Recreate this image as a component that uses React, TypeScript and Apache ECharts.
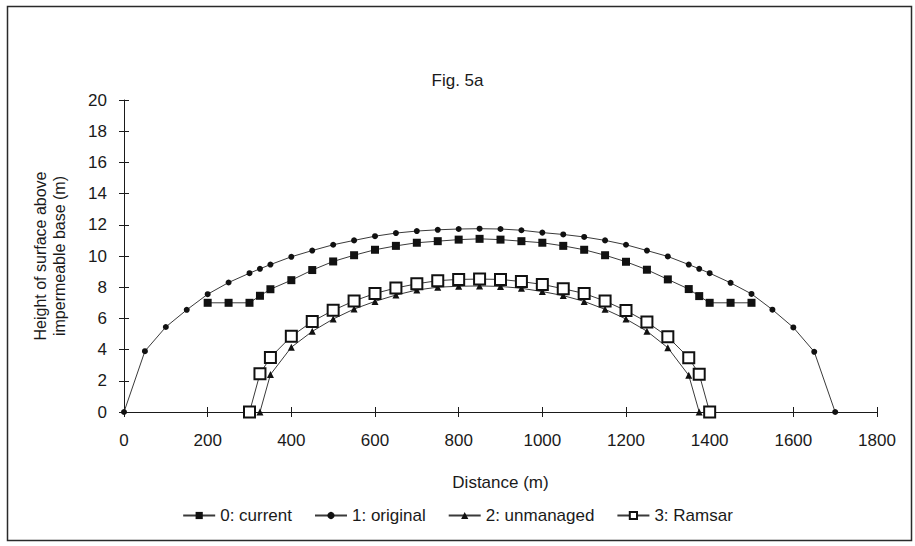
import React, { useEffect, useRef } from "react";
import * as echarts from "echarts";

// Fig. 5a — bog surface profiles along the transect
const xTicks = [0, 200, 400, 600, 800, 1000, 1200, 1400, 1600, 1800];
const yTicks = [0, 2, 4, 6, 8, 10, 12, 14, 16, 18, 20];

const currentDist = [200, 250, 300, 325, 350, 400, 450, 500, 550, 600, 650, 700, 750, 800, 850, 900, 950, 1000, 1050, 1100, 1150, 1200, 1250, 1300, 1350, 1375, 1400, 1450, 1500];
const currentHeight = [7.0, 7.0, 7.0, 7.45, 7.87, 8.45, 9.1, 9.65, 10.05, 10.4, 10.65, 10.85, 10.95, 11.05, 11.1, 11.05, 10.95, 10.85, 10.65, 10.4, 10.05, 9.63, 9.12, 8.5, 7.88, 7.43, 7.0, 7.0, 7.0];

const originalDist = [0, 50, 100, 150, 200, 250, 300, 325, 350, 400, 450, 500, 550, 600, 650, 700, 750, 800, 850, 900, 950, 1000, 1050, 1100, 1150, 1200, 1250, 1300, 1350, 1375, 1400, 1450, 1500, 1550, 1600, 1650, 1700];
const originalHeight = [0, 3.9, 5.45, 6.55, 7.55, 8.3, 8.9, 9.18, 9.45, 9.95, 10.35, 10.72, 11.0, 11.27, 11.47, 11.6, 11.68, 11.73, 11.75, 11.73, 11.65, 11.5, 11.38, 11.22, 11.0, 10.72, 10.35, 9.97, 9.45, 9.18, 8.9, 8.28, 7.57, 6.56, 5.42, 3.86, 0];

const unmanagedDist = [325, 350, 400, 450, 500, 550, 600, 650, 700, 750, 800, 850, 900, 950, 1000, 1050, 1100, 1150, 1200, 1250, 1300, 1350, 1375];
const unmanagedHeight = [0, 2.4, 4.15, 5.17, 5.96, 6.6, 7.09, 7.5, 7.82, 8.0, 8.06, 8.08, 8.05, 7.93, 7.72, 7.46, 7.09, 6.58, 5.96, 5.18, 4.12, 2.35, 0];

const ramsarDist = [300, 325, 350, 400, 450, 500, 550, 600, 650, 700, 750, 800, 850, 900, 950, 1000, 1050, 1100, 1150, 1200, 1250, 1300, 1350, 1375, 1400];
const ramsarHeight = [0, 2.45, 3.5, 4.85, 5.8, 6.52, 7.12, 7.6, 7.95, 8.22, 8.42, 8.5, 8.52, 8.5, 8.36, 8.18, 7.9, 7.6, 7.11, 6.5, 5.77, 4.82, 3.47, 2.42, 0];

const seriesNames = ["0: current", "1: original", "2: unmanaged", "3: Ramsar"];

const FONT = "'Liberation Sans', Arial, sans-serif";
const INK = "#1a1a1a";
const LINE = "#3a3a3a";

const pairs = (xs: number[], ys: number[]) => xs.map((x, i) => [x, ys[i]]);

export default function App() {
  const ref = useRef<HTMLDivElement>(null);

  useEffect(() => {
    if (!ref.current) return;
    document.body.style.margin = "0";
    const chart = echarts.init(ref.current, null, { renderer: "svg" });

    const axisBase = {
      axisLine: { show: true, lineStyle: { color: INK, width: 1 } },
      splitLine: { show: false },
    };

    chart.setOption({
      animation: false,
      backgroundColor: "#ffffff",
      textStyle: { fontFamily: FONT },
      title: {
        text: "Fig. 5a",
        left: "center",
        top: 67,
        textStyle: { fontFamily: FONT, fontSize: 17, fontWeight: "normal", color: INK },
      },
      grid: { left: 124, right: 38, top: 100, bottom: 134 },
      legend: {
        bottom: 17,
        left: "center",
        itemWidth: 32,
        itemHeight: 9,
        itemGap: 22,
        textStyle: { fontFamily: FONT, fontSize: 17, color: INK },
        data: seriesNames,
      },
      xAxis: [
        {
          ...axisBase,
          type: "value",
          min: 0,
          max: 1800,
          interval: 200,
          name: "Distance (m)",
          nameLocation: "middle",
          nameGap: 62,
          nameTextStyle: { fontFamily: FONT, fontSize: 17, color: INK },
          axisTick: { show: true, length: 5, lineStyle: { color: INK } },
          axisLabel: {
            fontFamily: FONT,
            fontSize: 17,
            color: INK,
            margin: 20,
            formatter: (v: number) => (xTicks.includes(v) ? String(v) : ""),
          },
        },
        {
          type: "value",
          position: "bottom",
          min: 0,
          max: 1800,
          interval: 200,
          axisLine: { show: false },
          splitLine: { show: false },
          axisLabel: { show: false },
          axisTick: { show: true, inside: true, length: 5, lineStyle: { color: INK } },
        },
      ],
      yAxis: [
        {
          ...axisBase,
          type: "value",
          min: 0,
          max: 20,
          interval: 2,
          name: "Height of surface above\nimpermeable base (m)",
          nameLocation: "middle",
          nameGap: 55,
          nameTextStyle: { fontFamily: FONT, fontSize: 16, color: INK, lineHeight: 19 },
          axisTick: { show: true, length: 5, lineStyle: { color: INK } },
          axisLabel: {
            fontFamily: FONT,
            fontSize: 17,
            color: INK,
            margin: 17,
            formatter: (v: number) => (yTicks.includes(v) ? String(v) : ""),
          },
        },
        {
          type: "value",
          position: "left",
          min: 0,
          max: 20,
          interval: 2,
          axisLine: { show: false },
          splitLine: { show: false },
          axisLabel: { show: false },
          axisTick: { show: true, inside: true, length: 5, lineStyle: { color: INK } },
        },
      ],
      graphic: [
        {
          type: "rect",
          shape: { x: 7.5, y: 6.5, width: 904, height: 534 },
          style: { fill: "none", stroke: "#2a2a2a", lineWidth: 1.5 },
          silent: true,
          z: -1,
        },
      ],
      series: [
        {
          name: seriesNames[1],
          type: "line",
          data: pairs(originalDist, originalHeight),
          symbol: "circle",
          symbolSize: 6,
          itemStyle: { color: "#111" },
          lineStyle: { color: LINE, width: 1 },
          z: 2,
        },
        {
          name: seriesNames[0],
          type: "line",
          data: pairs(currentDist, currentHeight),
          symbol: "rect",
          symbolSize: 8,
          itemStyle: { color: "#111" },
          lineStyle: { color: LINE, width: 1 },
          z: 3,
        },
        {
          name: seriesNames[2],
          type: "line",
          data: pairs(unmanagedDist, unmanagedHeight),
          symbol: "triangle",
          symbolSize: 7,
          itemStyle: { color: "#111" },
          lineStyle: { color: LINE, width: 1 },
          z: 4,
        },
        {
          name: seriesNames[3],
          type: "line",
          data: pairs(ramsarDist, ramsarHeight),
          symbol: "rect",
          symbolSize: 11,
          itemStyle: { color: "#ffffff", borderColor: "#111", borderWidth: 2 },
          lineStyle: { color: LINE, width: 1 },
          z: 5,
        },
      ],
    });

    return () => chart.dispose();
  }, []);

  return <div ref={ref} style={{ width: 915, height: 546 }} />;
}
